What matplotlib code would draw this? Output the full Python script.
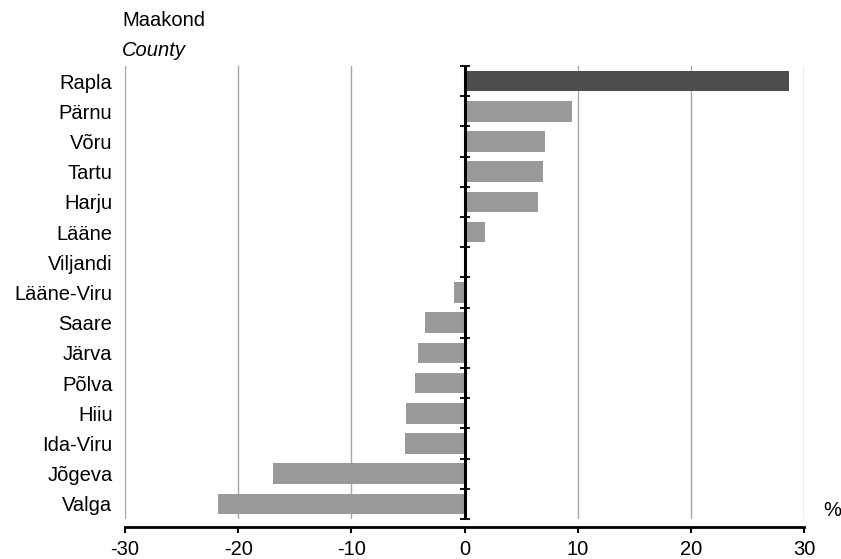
import numpy as np
import matplotlib
matplotlib.use('Agg')
import matplotlib.pyplot as plt

plt.rcParams['font.family'] = ['Liberation Sans', 'DejaVu Sans']
plt.rcParams['axes.unicode_minus'] = False

# Maakonnad ülevalt alla
maakonnad = ['Rapla', 'Pärnu', 'Võru', 'Tartu', 'Harju', 'Lääne', 'Viljandi',
             'Lääne-Viru', 'Saare', 'Järva', 'Põlva', 'Hiiu', 'Ida-Viru',
             'Jõgeva', 'Valga']
muutus = [28.7, 9.5, 7.1, 6.9, 6.5, 1.8, 0.0,
          -0.9, -3.5, -4.15, -4.4, -5.2, -5.3,
          -16.9, -21.8]
esile = 'Rapla'

x_ticks = [-30, -20, -10, 0, 10, 20, 30]

fs = 14.5

fig = plt.figure(figsize=(8.41, 5.59), dpi=100)
ax = fig.add_axes([125 / 841, 1 - 519 / 559, (804 - 125) / 841, (519 - 66) / 559])

n = len(maakonnad)
pos = np.arange(n)[::-1]
colors = ['#4d4d4d' if m == esile else '#999999' for m in maakonnad]
ax.barh(pos, muutus, height=0.68, color=colors, zorder=2)

ax.set_xlim(-30, 30)
ax.set_ylim(-0.5, n - 0.5)

# gridlines
ax.set_xticks(x_ticks)
ax.xaxis.grid(True, color='#a6a6a6', linewidth=1, zorder=0)
for gl in ax.get_xgridlines():
    gl.set_clip_on(False)
ax.set_axisbelow(True)

# y labels on left, no ticks
ax.set_yticks(pos)
ax.set_yticklabels(maakonnad, fontsize=fs)
ax.tick_params(axis='y', length=0, pad=9)
ax.tick_params(axis='x', direction='out', length=4, width=1.5, labelsize=fs, pad=5)

for s in ['left', 'right', 'top']:
    ax.spines[s].set_visible(False)
ax.spines['bottom'].set_position(('outward', 6))
ax.spines['bottom'].set_linewidth(2)

# zero axis with category boundary ticks
ax.axvline(0, color='black', linewidth=2.2, zorder=4)
sec = ax.secondary_yaxis(0.5)
sec.set_yticks(np.arange(n + 1) - 0.5)
sec.set_yticklabels([])
sec.tick_params(direction='inout', length=7, width=1.3)
sec.spines['left'].set_visible(False)

ax.text(-0.004, 1.10, 'Maakond', transform=ax.transAxes, fontsize=fs, va='center', ha='left')
ax.text(-0.004, 1.035, 'County', transform=ax.transAxes, fontsize=fs, style='italic', va='center', ha='left')
ax.text(1.041, 0.018, '%', transform=ax.transAxes, fontsize=fs, va='center', ha='center')

fig.savefig('out.png', dpi=100)
